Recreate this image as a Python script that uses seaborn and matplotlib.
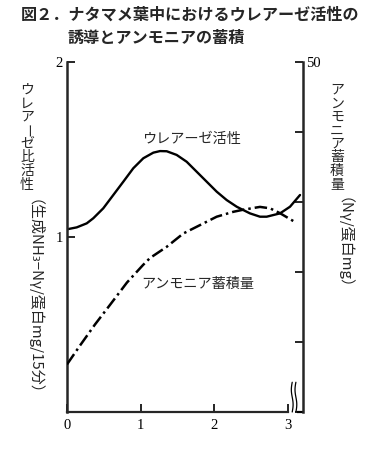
import numpy as np
import pandas as pd
import matplotlib
matplotlib.use("Agg")
import matplotlib.pyplot as plt
import seaborn as sns

# ---- data ----
urease_x = [0.0, 0.132, 0.268, 0.357, 0.493, 0.629, 0.765, 0.901, 1.037, 1.173, 1.264, 1.355,
            1.490, 1.626, 1.762, 1.898, 2.034, 2.170, 2.306, 2.395, 2.486, 2.622, 2.713, 2.894,
            3.030, 3.166]
urease_y = [1.044, 1.055, 1.078, 1.107, 1.164, 1.240, 1.316, 1.393, 1.450, 1.482, 1.491, 1.490,
            1.469, 1.430, 1.373, 1.316, 1.259, 1.211, 1.173, 1.154, 1.135, 1.116, 1.116, 1.135,
            1.173, 1.240]
ammonia_x = [0.0, 0.177, 0.38, 0.584, 0.815, 1.033, 1.128, 1.355, 1.580, 1.807, 2.034, 2.26,
             2.395, 2.622, 2.758, 2.894, 3.007, 3.12]
ammonia_y = [6.8, 9.5, 12.5, 15.3, 18.5, 21.0, 22.0, 23.6, 25.5, 26.7, 27.9, 28.6,
             28.9, 29.3, 29.1, 28.4, 27.7, 27.0]

x_ticks = [0, 1, 2, 3]
left_ticks = [1, 2]
right_ticks = [0, 10, 20, 30, 40, 50]
right_labels = ["", "", "", "", "", "50"]

title1 = "図２．ナタマメ葉中におけるウレアーゼ活性の"
title2 = "誘導とアンモニアの蓄積"
urease_label = "ウレアーゼ活性"
ammonia_label = "アンモニア蓄積量"
left_label_v = "ウレアーゼ比活性"
left_label_r = "（生成NH₃−Nγ/蛋白mg/15分）"
right_label_v = "アンモニア蓄積量"
right_label_r = "（Nγ/蛋白mg）"

# ---- style ----
sns.set_theme(style="white")
plt.rcParams["font.family"] = ["Noto Sans CJK JP", "DejaVu Sans"]
plt.rcParams["axes.unicode_minus"] = False

W, H = 366, 449
fig = plt.figure(figsize=(W / 100, H / 100), dpi=100)
fig.patch.set_facecolor("white")

x0, x1, y0, y1 = 67, 303, 62, 412
ax = fig.add_axes([x0 / W, 1 - y1 / H, (x1 - x0) / W, (y1 - y0) / H])
ax2 = ax.twinx()
xmax = (x1 - x0) / 73.6

urease = pd.DataFrame({"t": urease_x, "v": urease_y})
ammonia = pd.DataFrame({"t": ammonia_x, "v": ammonia_y})

sns.lineplot(data=urease, x="t", y="v", ax=ax, color="black", lw=1.7, sort=False)
sns.lineplot(data=ammonia, x="t", y="v", ax=ax2, color="black", lw=1.8, sort=False,
             linestyle=(0, (5.0, 1.6, 1.0, 1.6)))

ax.set_xlim(0, xmax)
ax.set_ylim(0, 2)
ax2.set_ylim(0, 50)
for a in (ax, ax2):
    a.set_xlabel("")
    a.set_ylabel("")
    a.set_facecolor("none")
    a.grid(False)
    for s in a.spines.values():
        s.set_visible(False)

ax.spines["left"].set_visible(True)
ax.spines["left"].set_linewidth(1.8)
ax.spines["bottom"].set_visible(True)
ax.spines["bottom"].set_linewidth(1.6)
ax.spines["bottom"].set_bounds(0, 3.0)
ax2.spines["right"].set_visible(True)
ax2.spines["right"].set_linewidth(1.8)

serif = ["Liberation Serif", "DejaVu Serif"]
ax.set_xticks(x_ticks)
ax.set_xticklabels([str(v) for v in x_ticks], fontfamily=serif, fontsize=10.5)
ax.set_yticks(left_ticks)
ax.set_yticklabels([str(v) for v in left_ticks], fontfamily=serif, fontsize=10.5)
ax.tick_params(axis="both", direction="in", length=6, width=1.2, pad=3,
               left=True, bottom=True, colors="black")
ax.tick_params(axis="x", pad=5)
ax2.set_yticks(right_ticks)
ax2.set_yticklabels(right_labels, fontfamily=serif, fontsize=10.5)
ax2.tick_params(axis="y", direction="in", length=6, width=1.2, pad=2, right=True,
                colors="black")

# axis break: short bottom segment and two squiggles
ax.plot([3.13, xmax], [0, 0], color="black", lw=1.6, clip_on=False, solid_capstyle="butt")
tt = np.linspace(0, 1, 40)
for xb in (3.06, 3.11):
    ax.plot(xb + 0.012 * np.sin(2 * np.pi * tt), 0.17 * tt, color="black", lw=0.9,
            clip_on=False)

# in-plot labels
ax.text(0.5275, 0.78, urease_label, transform=ax.transAxes, ha="center", va="center",
        fontsize=10.2)
ax.text(0.555, 0.366, ammonia_label, transform=ax.transAxes, ha="center", va="center",
        fontsize=10.2)

# title
fig.text(190 / W, 1 - 15 / H, title1, ha="center", va="center", fontsize=11.6,
         fontweight="bold")
fig.text(68 / W, 1 - 38 / H, title2, ha="left", va="center", fontsize=11.6,
         fontweight="bold")


def vertical(text, xc, ytop, pitch, size):
    for i, ch in enumerate(text):
        rot = 270 if ch in "ー" else 0
        fig.text(xc / W, 1 - (ytop + i * pitch) / H, ch, ha="center", va="center",
                 fontsize=size, rotation=rot)


vertical(left_label_v, 27, 90, 13.5, 10)
fig.text(27 / W, 1 - 304 / H, left_label_r, ha="center", va="center", fontsize=10.8,
         rotation=270)
vertical(right_label_v, 337, 90, 13.5, 10)
fig.text(337 / W, 1 - 251 / H, right_label_r, ha="center", va="center", fontsize=10.8,
         rotation=270)

fig.savefig("out.png", dpi=100, facecolor="white")
